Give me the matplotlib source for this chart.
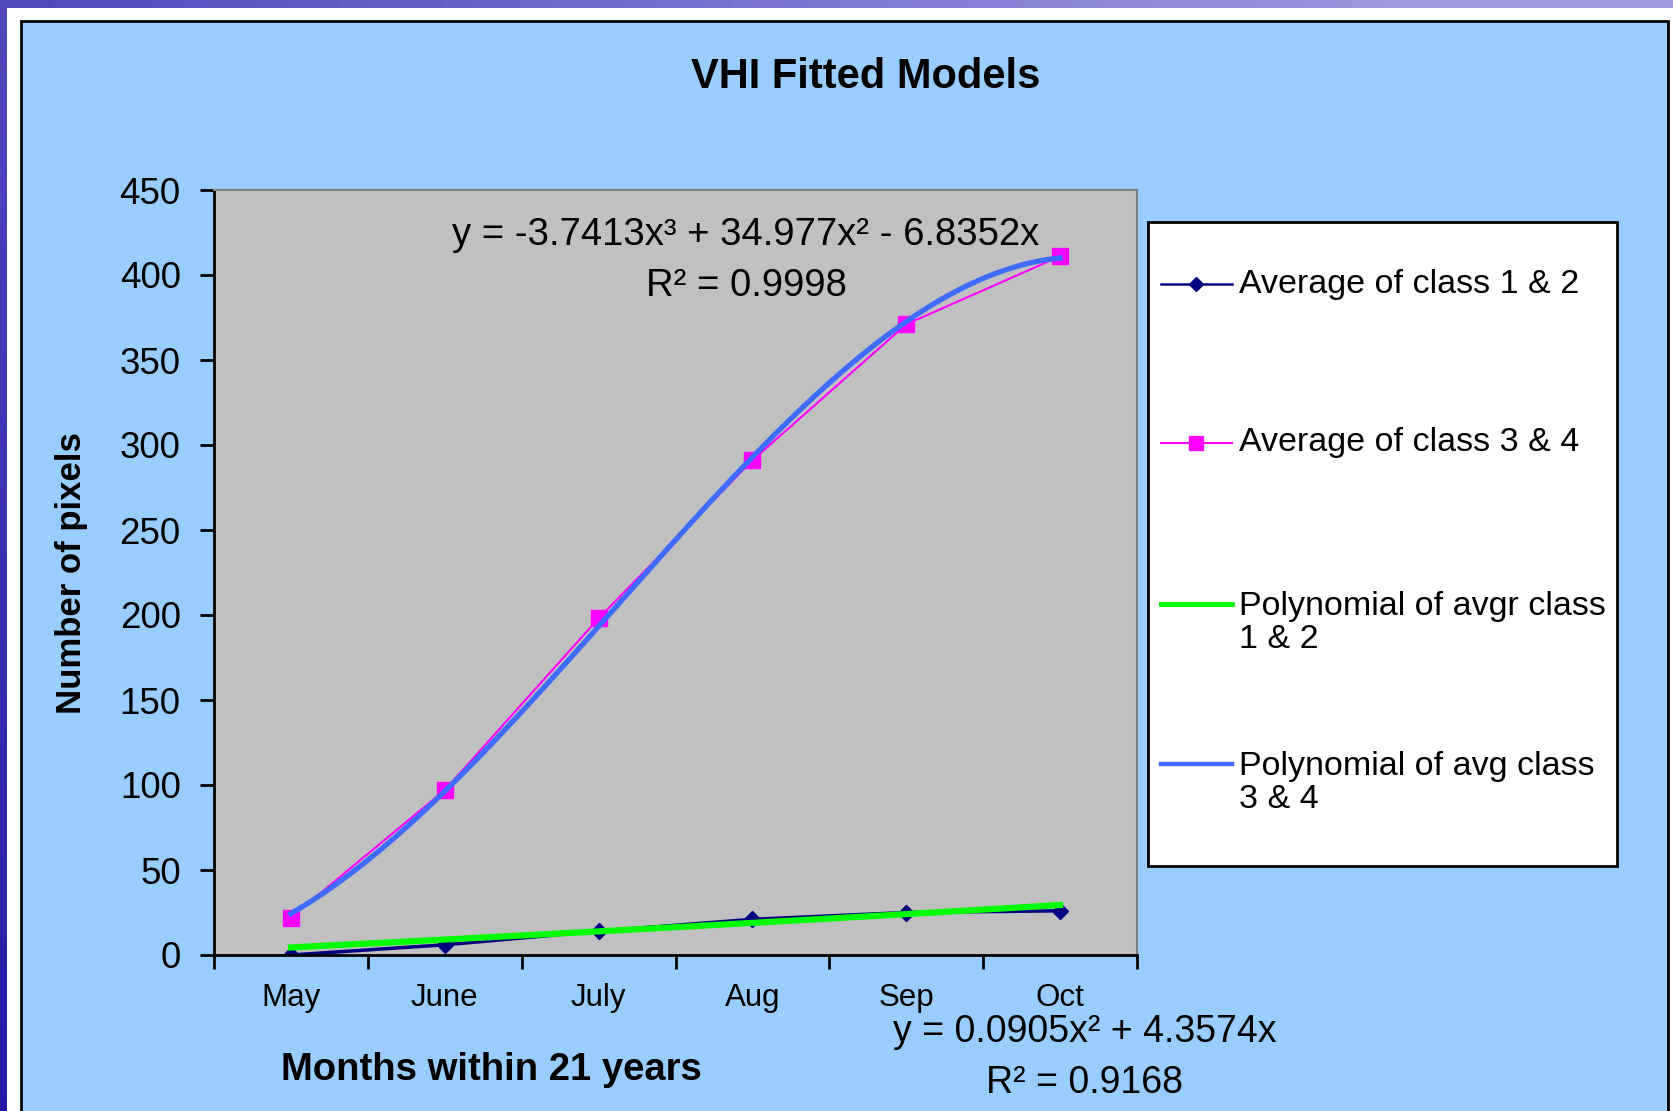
import numpy as np
import matplotlib
matplotlib.use('Agg')
import matplotlib.pyplot as plt
from matplotlib.patches import Rectangle

plt.rcParams['font.family'] = ['Liberation Sans', 'DejaVu Sans']

# 데이터
months = ['May', 'June', 'July', 'Aug', 'Sep', 'Oct']
avg_class_12 = [0, 6, 14, 21, 25, 26]
avg_class_34 = [22, 97, 198, 291, 371, 411]
# 추세선 계수 (차트에 표시된 식)
poly_12 = [0.0905, 4.3574, 0]
poly_34 = [-3.7413, 34.977, -6.8352, 0]
eq_12 = ['y = 0.0905x² + 4.3574x', 'R² = 0.9168']
eq_34 = ['y = -3.7413x³ + 34.977x² - 6.8352x', 'R² = 0.9998']
labels = ['Average of class 1 & 2', 'Average of class 3 & 4',
          'Polynomial of avgr class\n1 & 2', 'Polynomial of avg class\n3 & 4']
yticks = list(range(0, 451, 50))

W, H = 1673, 1111
NAVY, MAGENTA, GREEN, BLUE = '#000080', '#FF00FF', '#00FF00', '#3F6BFF'


def px(x, y):
    # 픽셀 좌표 -> figure 좌표
    return x / W, 1 - y / H


fig = plt.figure(figsize=(W / 100, H / 100), dpi=100)

# 배경 (보라/파랑 그라데이션 + 흰 테두리 + 차트 영역)
bg = fig.add_axes([0, 0, 1, 1])
bg.set_xlim(0, W)
bg.set_ylim(H, 0)
bg.axis('off')
gx, gy = np.meshgrid(np.linspace(0, 1, 64), np.linspace(0, 1, 64))
t = np.clip(0.75 * (1 - gx) + 0.35 * gy - 0.1, 0, 1)[..., None]
c1 = np.array([0.63, 0.61, 0.88])
c2 = np.array([0.15, 0.10, 0.66])
bg.imshow(c1 * (1 - t) + c2 * t, extent=(0, W, H, 0), aspect='auto', zorder=0)
bg.add_patch(Rectangle((7, 8), W, H, fc='white', ec='none', zorder=1))
bg.add_patch(Rectangle((21, 21), 1647, 1130, fc='#99CCFF', ec='black', lw=2, zorder=2))

# 범례 (수동 배치)
bg.add_patch(Rectangle((1148, 222), 469, 644, fc='white', ec='black', lw=2, zorder=3))
handle_y = [284, 443, 604, 764]
text_y = [284, 443, 623, 783]
styles = [dict(color=NAVY, lw=1.8, marker='D', ms=7),
          dict(color=MAGENTA, lw=1.5, marker='s', ms=10),
          dict(color=GREEN, lw=3.5),
          dict(color=BLUE, lw=3.2)]
for hy, ty, lab, st in zip(handle_y, text_y, labels, styles):
    bg.plot([1161, 1232], [hy, hy], zorder=4, color=st['color'], lw=st['lw'])
    if 'marker' in st:
        bg.plot([1196], [hy], color=st['color'], marker=st['marker'], ms=st['ms'], lw=0, zorder=5)
    bg.text(1239, ty, lab, fontsize=24.5, va='center', ha='left', linespacing=1.1, zorder=5)

# 메인 플롯
ax = fig.add_axes([214 / W, (H - 955) / H, (1137 - 214) / W, (955 - 190) / H])
ax.set_zorder(2)
ax.set_facecolor('#C0C0C0')

x = np.arange(1, len(months) + 1)
xf = np.linspace(1, len(months), 200)
ax.plot(x, avg_class_12, color=NAVY, lw=2.5, marker='D', ms=8, zorder=2)
ax.plot(x, avg_class_34, color=MAGENTA, lw=1.5, marker='s', ms=11, zorder=2)
ax.plot(xf, np.polyval(poly_12, xf), color=GREEN, lw=4.5, zorder=3)
ax.plot(xf, np.polyval(poly_34, xf), color=BLUE, lw=3.8, zorder=3)

ax.set_xlim(0.5, len(months) + 0.5)
ax.set_ylim(0, 450)
ax.set_yticks(yticks)
ax.set_xticks(np.arange(0.5, len(months) + 1))
ax.set_xticklabels([])
ax.set_xticks(x, minor=True)
ax.set_xticklabels(months, minor=True, fontsize=22.5)
ax.tick_params(axis='x', which='major', length=10, width=2, direction='out')
ax.tick_params(axis='x', which='minor', length=0, pad=20)
ax.tick_params(axis='y', length=10, width=2, labelsize=26.5, pad=14)
for s in ['left', 'bottom']:
    ax.spines[s].set_linewidth(2)
for s in ['top', 'right']:
    ax.spines[s].set_color('#808080')
    ax.spines[s].set_linewidth(1.5)

# 제목, 축 이름
fig.text(*px(866, 77), 'VHI Fitted Models', fontsize=30, fontweight='bold', ha='center', va='center')
fig.text(*px(71, 573), 'Number of pixels', fontsize=25, fontweight='bold', ha='center', va='center', rotation=90)
fig.text(*px(491, 1070), 'Months within 21 years', fontsize=27.5, fontweight='bold', ha='center', va='center')

# 추세선 식
fig.text(*px(746, 235), eq_34[0], fontsize=27.5, ha='center', va='center', zorder=5)
fig.text(*px(746, 286), eq_34[1], fontsize=27.5, ha='center', va='center', zorder=5)
fig.text(*px(1085, 1032), eq_12[0], fontsize=27, ha='center', va='center', zorder=5)
fig.text(*px(1085, 1083), eq_12[1], fontsize=27, ha='center', va='center', zorder=5)

fig.savefig('out.png', dpi=100)
